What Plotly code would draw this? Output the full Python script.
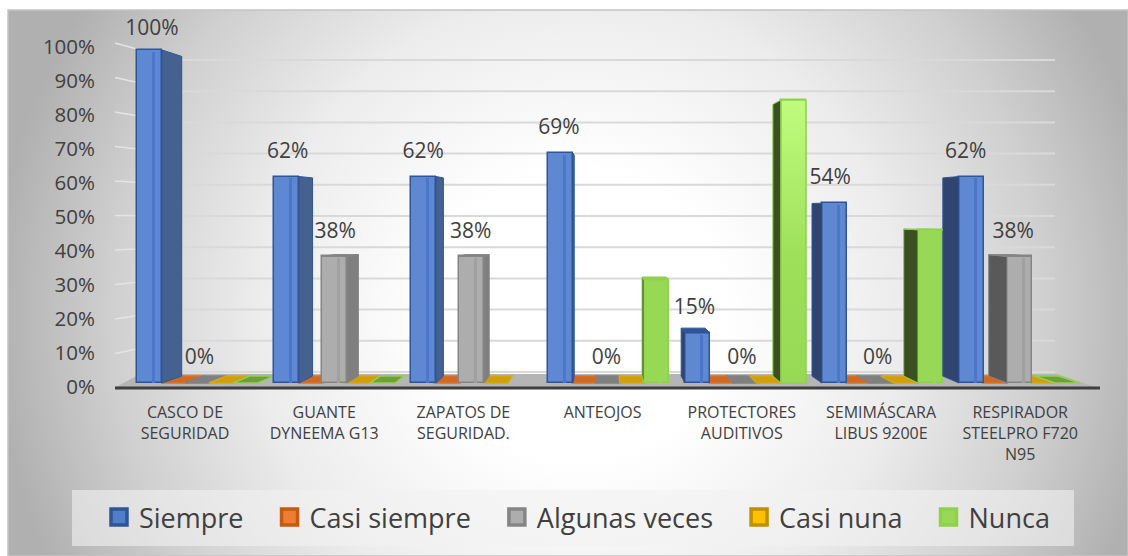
import base64
import plotly.graph_objects as go

W, H = 1128, 556

INK = "#404040"
FONT = "Open Sans"

categories = ["CASCO DE<br>SEGURIDAD", "GUANTE<br>DYNEEMA G13", "ZAPATOS DE<br>SEGURIDAD.", "ANTEOJOS",
              "PROTECTORES<br>AUDITIVOS", "SEMIMÁSCARA<br>LIBUS 9200E", "RESPIRADOR<br>STEELPRO F720<br>N95"]
series_names = ["Siempre", "Casi siempre", "Algunas veces", "Casi nuna", "Nunca"]

siempre = [100, 62, 62, 69, 15, 54, 62]
casi_siempre = [0, 0, 0, 0, 0, 0, 0]
algunas_veces = [0, 38, 38, 0, 0, 0, 38]
casi_nuna = [0, 0, 0, 0, 0, 0, 0]
nunca = [0, 0, None, 31, 85, 46, 0]
labelled = [True, False, True, False, False]   # only these series carry data labels in the source

y_ticks = [0, 10, 20, 30, 40, 50, 60, 70, 80, 90, 100]

series_values = [siempre, casi_siempre, algunas_veces, casi_nuna, nunca]
front = ["#5f88d2", "#ed7d31", "#adadad", "#ffc000", "#97d855"]
edge = ["#2f5597", "#c55a11", "#858585", "#bf9000", "#8fd14f"]
stripe = ["#4a77c9", "#ed7d31", "#a0a0a0", "#ffc000", "#97d855"]
side_right = ["#44618f", "#a04a10", "#7f7f7f", "#a07a00", "#4f7a2a"]
side_left = ["#2f4570", "#a04a10", "#595959", "#a07a00", "#3a5020"]
floor_patch = ["#4472c4", "#cf6a22", "#808080", "#cf9f0e", "#6f9e3a"]
patch_edge = ["#4472c4", "#e0702a", "#808080", "#d9a80f", "#92d050"]

# the picture is an Office 3D column chart: front scale of the bars and a vanishing point
PX_Y0, PX_PER_PCT = 383.0, 3.33
PX_X0, PX_PER_GROUP = 137.0, 137.0
SLOT_W, FACE_W = 24.0, 25.0
VP_X, VP_Y, KX, KY = 600.0, 210.0, 0.045, 0.04


def dx(px):
    return (px - PX_X0) / PX_PER_GROUP


def dy(px):
    return (PX_Y0 - px) / PX_PER_PCT


def px_y(v):
    return PX_Y0 - v * PX_PER_PCT


def back_wall(v):
    return 372.0 - 3.12 * v


bg_svg = f"""<svg xmlns='http://www.w3.org/2000/svg' width='{W}' height='{H}' preserveAspectRatio='none'>
<defs><radialGradient id='g' gradientUnits='userSpaceOnUse' cx='575' cy='310' r='590'>
<stop offset='0' stop-color='#ffffff'/><stop offset='0.25' stop-color='#ffffff'/>
<stop offset='0.55' stop-color='#ececec'/><stop offset='0.8' stop-color='#cfcfcf'/>
<stop offset='1' stop-color='#b0b0b0'/>
</radialGradient></defs><rect width='{W}' height='{H}' fill='url(#g)'/></svg>"""
bg_uri = "data:image/svg+xml;base64," + base64.b64encode(bg_svg.encode()).decode()

shapes = []


def line_shape(x0, y0, x1, y1, color, width):
    shapes.append(dict(type="line", layer="below", xref="x", yref="y",
                       x0=dx(x0), y0=dy(y0), x1=dx(x1), y1=dy(y1),
                       line=dict(color=color, width=width)))


def poly_shape(points, fill, line_color=None, line_width=0):
    path = "M" + " L".join(f"{dx(a):.4f},{dy(b):.4f}" for a, b in points) + " Z"
    shapes.append(dict(type="path", layer="below", xref="x", yref="y", path=path,
                       fillcolor=fill, line=dict(color=line_color or fill, width=line_width)))


# frame, legend panel
shapes.append(dict(type="rect", layer="below", xref="paper", yref="paper",
                   x0=8 / W, x1=1, y0=0, y1=1 - 10 / H,
                   fillcolor="rgba(0,0,0,0)", line=dict(color="#c4c4c4", width=1.5)))
shapes.append(dict(type="rect", layer="below", xref="paper", yref="paper",
                   x0=72 / W, x1=1074 / W, y0=1 - 546 / H, y1=1 - 490 / H,
                   fillcolor="rgba(242,242,242,0.6)", line=dict(width=0)))

# walls and floor
for v in y_ticks:
    line_shape(177, back_wall(v), 1055, back_wall(v), "#d9d9d9", 2)
    if v > 0:
        line_shape(115, 388 - 3.45 * v, 177, back_wall(v), "#e4e4e4", 1.5)
poly_shape([(140, 374), (1057, 374), (1095, 387), (116, 387)], "#b5b5b5")
line_shape(115, 388, 1100, 388, "#3f3f3f", 3)

fig = go.Figure()

# flat 0% values lie on the floor
for s, values in enumerate(series_values):
    for i, v in enumerate(values):
        if v != 0:
            continue
        x0 = PX_X0 + i * PX_PER_GROUP + s * SLOT_W
        x1 = x0 + FACE_W
        yb = px_y(0)
        sh = (VP_Y - yb) * KY
        poly_shape([(x0, yb), (x1, yb), (x1 + (VP_X - x1) * KX, yb + sh), (x0 + (VP_X - x0) * KX, yb + sh)],
                   floor_patch[s], patch_edge[s], 1.5)

# front faces
for s, values in enumerate(series_values):
    idx = [i for i, v in enumerate(values) if v]
    if not idx:
        continue
    xs = [i + s * SLOT_W / PX_PER_GROUP for i in idx]
    ys = [values[i] for i in idx]
    fig.add_trace(go.Bar(x=xs, y=ys, width=FACE_W / PX_PER_GROUP, offset=0, showlegend=False,
                         marker=dict(color=front[s], line=dict(color=edge[s], width=1.5)),
                         hoverinfo="skip"))
    fig.add_trace(go.Bar(x=[a + 15 / PX_PER_GROUP for a in xs], y=[b - 0.5 for b in ys],
                         width=3 / PX_PER_GROUP, offset=0, showlegend=False,
                         marker=dict(color=stripe[s], line=dict(width=0)), hoverinfo="skip"))

# side walls and caps of the columns
for s, values in enumerate(series_values):
    sx, sy, cx, cy = [], [], [], []
    lx, ly = [], []
    for i, v in enumerate(values):
        if not v:
            continue
        x0 = PX_X0 + i * PX_PER_GROUP + s * SLOT_W
        x1 = x0 + FACE_W
        ytop, ybot = px_y(v), px_y(0)
        is_right = x1 < VP_X
        xe = x1 if is_right else x0
        xb = xe + (VP_X - xe) * KX
        st, sb = (VP_Y - ytop) * KY, (VP_Y - ybot) * KY
        pts = [(xe, ybot), (xe, ytop), (xb, ytop + st), (xb, ybot + sb), (xe, ybot), (None, None)]
        if is_right:
            sx += [p[0] for p in pts]
            sy += [p[1] for p in pts]
        else:
            lx += [p[0] for p in pts]
            ly += [p[1] for p in pts]
        if st < 0:
            x0b, x1b = x0 + (VP_X - x0) * KX, x1 + (VP_X - x1) * KX
            pts = [(x0, ytop), (x1, ytop), (x1b, ytop + st), (x0b, ytop + st), (x0, ytop), (None, None)]
            cx += [p[0] for p in pts]
            cy += [p[1] for p in pts]
    for xs, ys, col in [(sx, sy, side_right[s]), (lx, ly, side_left[s]), (cx, cy, edge[s])]:
        if xs:
            fig.add_trace(go.Scatter(
                x=[None if a is None else dx(a) for a in xs],
                y=[None if b is None else dy(b) for b in ys],
                mode="lines", fill="toself", fillcolor=col,
                line=dict(color=edge[s], width=1), showlegend=False, hoverinfo="skip"))

# the tallest green column catches the light at its top
tall = max(v for v in nunca if v)
tall_i = nunca.index(tall)
gx = tall_i + 4 * SLOT_W / PX_PER_GROUP
gw = FACE_W / PX_PER_GROUP
fig.add_trace(go.Scatter(x=[gx, gx + gw, gx + gw, gx, gx], y=[0, 0, tall, tall, 0],
                         mode="lines", fill="toself", line=dict(color=edge[4], width=1.5),
                         fillgradient=dict(type="vertical", start=tall, stop=0,
                                           colorscale=[[0, "#bffc7e"], [0.55, "#9fe05a"], [1, "#97d855"]]),
                         showlegend=False, hoverinfo="skip"))

# data labels; the 100% label stays inside the chart frame
LABEL_LIFT = 24
LABEL_TOP_PX = 30
for s, values in enumerate(series_values):
    if not labelled[s]:
        continue
    lab_x, lab_y, lab_t = [], [], []
    for i, v in enumerate(values):
        cx_px = PX_X0 + i * PX_PER_GROUP + s * SLOT_W + FACE_W / 2
        lab_x.append(dx(cx_px + (VP_X - cx_px) * 0.01 - 2))
        lab_y.append(min(v + LABEL_LIFT / PX_PER_PCT, dy(LABEL_TOP_PX)))
        lab_t.append(f"{v}%")
    fig.add_trace(go.Scatter(x=lab_x, y=lab_y, text=lab_t, mode="text", textposition="middle center",
                             textfont=dict(family=FONT, size=21, color=INK), showlegend=False, hoverinfo="skip"))

# legend entries
for s, name in enumerate(series_names):
    fig.add_trace(go.Scatter(x=[None], y=[None], mode="markers", name=name + "\u00a0\u00a0\u00a0",
                             marker=dict(symbol="square", size=16, color=front[s] if s else "#4f7fcb",
                                         line=dict(color=edge[s], width=3.5))))

# carriers for the two label axes
fig.add_trace(go.Scatter(x=list(range(len(categories))), y=siempre, xaxis="x2", yaxis="y2", mode="markers",
                         marker=dict(opacity=0), showlegend=False, hoverinfo="skip"))

fig.update_layout(
    width=W, height=H, margin=dict(l=0, r=0, t=0, b=0), autosize=False,
    paper_bgcolor="white", plot_bgcolor="rgba(0,0,0,0)",
    barmode="overlay", bargap=0, shapes=shapes,
    font=dict(family=FONT, color=INK),
    images=[dict(source=bg_uri, xref="paper", yref="paper", x=8 / W, y=1 - 10 / H,
                 sizex=1 - 8 / W, sizey=1 - 10 / H, sizing="stretch", layer="below",
                 xanchor="left", yanchor="top")],
    xaxis=dict(range=[dx(0), dx(W)], visible=False, domain=[0, 1]),
    yaxis=dict(range=[dy(H), dy(0)], visible=False, domain=[0, 1]),
    xaxis2=dict(overlaying="x", anchor="free", position=1 - 401 / H, side="bottom",
                range=[-185 / 139.2, (W - 185) / 139.2], tickmode="array",
                tickvals=list(range(len(categories))), ticktext=categories,
                tickfont=dict(family=FONT, size=16, color=INK), ticks="", showgrid=False,
                zeroline=False, showline=False, tickangle=0),
    yaxis2=dict(overlaying="y", anchor="free", position=95 / W, side="left",
                range=[(387 - H) / 3.4, 387 / 3.4], tickmode="array",
                tickvals=y_ticks, ticktext=[f"{v}%" for v in y_ticks],
                tickfont=dict(family=FONT, size=20.5, color=INK), ticks="", showgrid=False,
                zeroline=False, showline=False),
    legend=dict(orientation="h", x=99 / W, y=1 - 493 / H, xanchor="left", yanchor="top",
                bgcolor="rgba(0,0,0,0)", font=dict(family=FONT, size=27, color=INK),
                itemsizing="trace", itemclick=False, itemdoubleclick=False),
)

fig.write_html("out.html", config=dict(displayModeBar=False), post_script="document.body.style.margin='0';")
